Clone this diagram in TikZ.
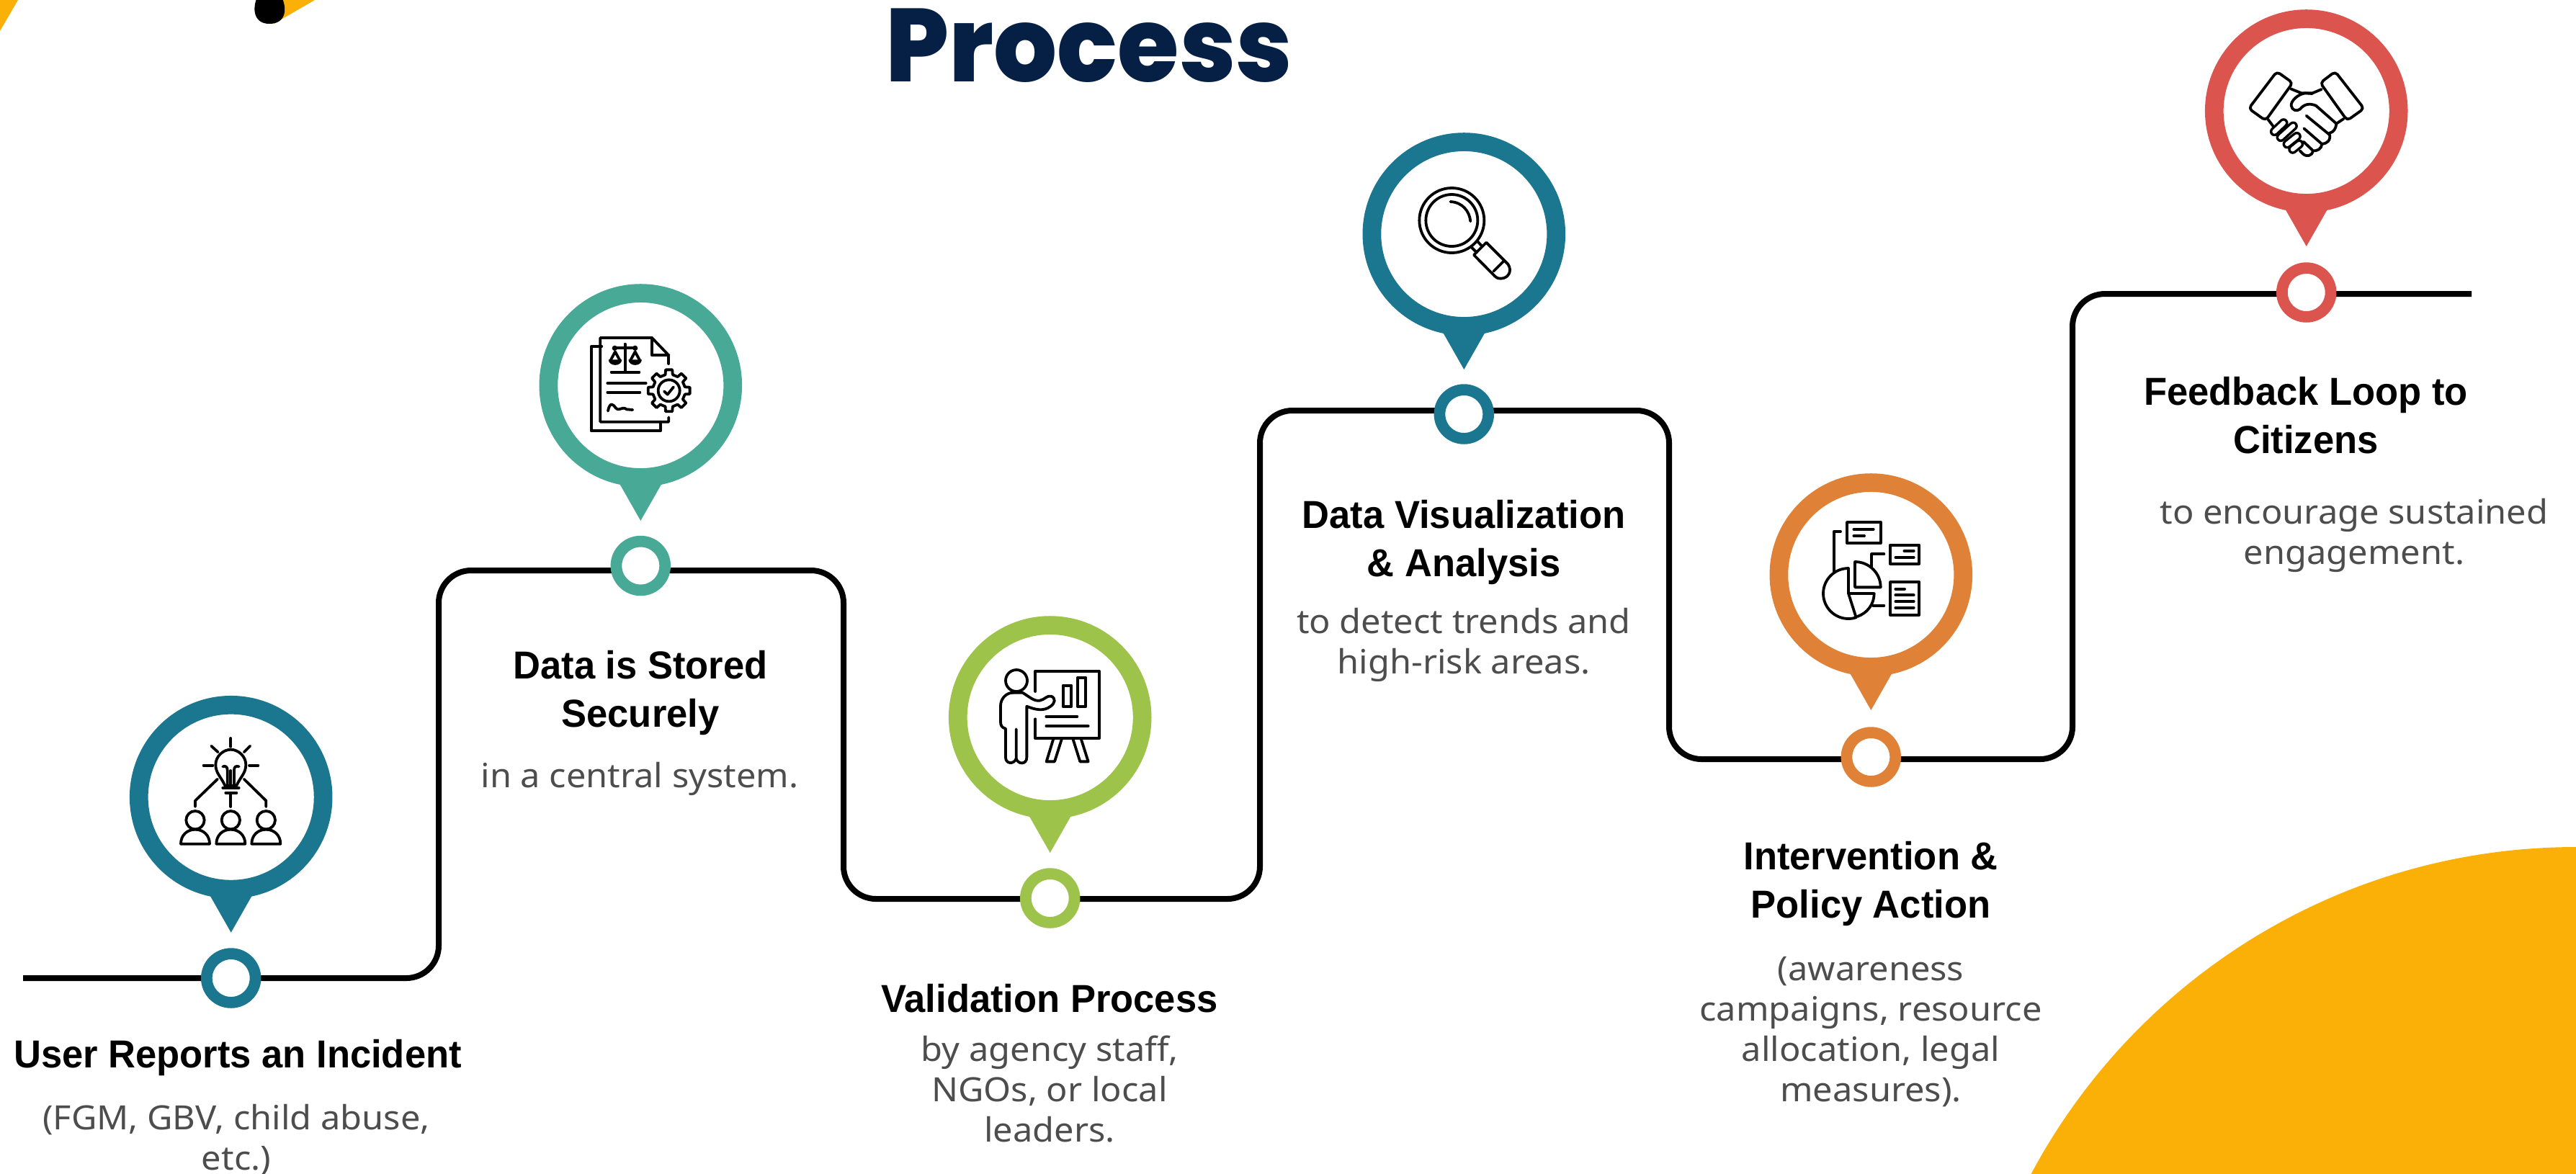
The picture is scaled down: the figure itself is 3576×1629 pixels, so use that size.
\documentclass[tikz,border=0pt]{standalone}
\usepackage{fontspec}
\setmainfont[FakeStretch=1.05]{Noto Sans}
\newfontfamily\headfont[FakeStretch=0.97]{Liberation Sans}
\newfontfamily\titlefont[FakeStretch=0.96]{Poppins ExtraBold}

\definecolor{petrol}{HTML}{1B768F}
\definecolor{seagreen}{HTML}{47A996}
\definecolor{lime}{HTML}{9DC34A}
\definecolor{carrot}{HTML}{DF8136}
\definecolor{brick}{HTML}{DB544E}
\definecolor{sun}{HTML}{FBB007}
\definecolor{navy}{HTML}{061F45}
\definecolor{notegray}{HTML}{4D4D4D}

\tikzset{
  trail/.style={line width=0.08cm, rounded corners=0.45cm},
  pin/.style={circle, fill=white, inner sep=0pt, minimum size=2.557cm, line width=0.257cm},
  ring/.style={circle, fill=white, inner sep=0pt, minimum size=0.677cm, line width=0.157cm},
  steptitle/.style={anchor=base, align=center, inner sep=0pt, font=\headfont\bfseries\fontsize{15.4pt}{18.8pt}\selectfont},
  stepnote/.style={anchor=base, align=center, inner sep=0pt, text=notegray, font=\fontsize{13.2pt}{15.9pt}\selectfont},
  icon/.style={line width=0.038cm, line cap=round, line join=round},
}

\begin{document}
\begin{tikzpicture}[x=0.01cm,y=-0.01cm]
  \useasboundingbox (0,0) rectangle (3576,1629);
  \begin{scope}
    \clip (0,0) rectangle (3576,1629);
    \fill[sun] (3576,2033) circle (857);
    \fill[sun] (0,0) -- (25,0) -- (0,43) -- cycle;
    \fill[sun] (380,0) -- (437,0) -- (380,33) -- cycle;
    \fill (357,-4) .. controls (350,12) and (352,33) .. (374,33) .. controls (397,33) and (399,12) .. (391,-4) -- cycle;
  \end{scope}

  \node (title) at (1512,113) [anchor=base, inner sep=0pt, text=navy, font=\titlefont\fontsize{41pt}{41pt}\selectfont] {Process};

  \coordinate (trailstart) at (32,1358);
  \coordinate (bend1) at (609,1358);
  \coordinate (bend2) at (609,792);
  \coordinate (bend3) at (1171,792);
  \coordinate (bend4) at (1171,1248);
  \coordinate (bend5) at (1749,1248);
  \coordinate (bend6) at (1749,570);
  \coordinate (bend7) at (2317,570);
  \coordinate (bend8) at (2317,1054);
  \coordinate (bend9) at (2877,1054);
  \coordinate (bend10) at (2877,408);
  \coordinate (trailend) at (3431,408);
  \draw[trail] (trailstart) -- (bend1) -- (bend2) -- (bend3) -- (bend4) -- (bend5) -- (bend6) -- (bend7) -- (bend8) -- (bend9) -- (bend10) -- (trailend);

  \foreach \n/\x/\y/\ry/\col in {1/320.7/1106.7/1358/petrol, 2/889.3/535/785.5/seagreen, 3/1457.7/996/1247/lime, 4/2032.3/325/575/petrol, 5/2597.3/798/1051/carrot, 6/3201.7/154/406/brick} {
    \node (pin\n) at (\x,\y) [pin, draw=\col] {};
    \fill[\col] ([shift={(-29,137)}]pin\n.center) -- ([shift={(29,137)}]pin\n.center) -- ([shift={(0,188)}]pin\n.center) -- cycle;
    \node (ring\n) at (\x,\ry) [ring, draw=\col] {};
  }

  \node (head1) at (330,1482) [steptitle] {User Reports an Incident};
  \node (note1) at (328,1624) [stepnote] {(FGM, GBV, child abuse,\\etc.)};
  \node (head2) at (889,1009) [steptitle] {Data is Stored\\Securely};
  \node (note2) at (888,1093) [stepnote] {in a central system.};
  \node (head3) at (1457,1405) [steptitle] {Validation Process};
  \node (note3) at (1457,1585) [stepnote] {by agency staff,\\NGOs, or local\\leaders.};
  \node (head4) at (2032,800) [steptitle] {Data Visualization\\\& Analysis};
  \node (note4) at (2032,935) [stepnote] {to detect trends and\\high-risk areas.};
  \node (head5) at (2597,1274) [steptitle] {Intervention \&\\Policy Action};
  \node (note5) at (2597,1529) [stepnote] {(awareness\\campaigns, resource\\allocation, legal\\measures).};
  \node (head6) at (3201,629) [steptitle] {Feedback Loop to\\Citizens};
  \node (note6) at (3268,783) [stepnote] {to encourage sustained\\engagement.};

  \begin{scope}[shift={(150,950)},scale=1/3,icon]
    \draw (511,225) -- (511,260);
    \draw (430,257) -- (458,283);
    \draw (592,257) -- (566,283);
    \draw (398,338) -- (436,338);
    \draw (588,338) -- (625,338);
    \draw (487,422) .. controls (470,385) and (448,370) .. (448,335) .. controls (448,300) and (480,272) .. (511,272) .. controls (542,272) and (574,300) .. (574,335) .. controls (574,370) and (552,385) .. (535,422) -- cycle;
    \draw (478,343) .. controls (490,338) and (497,345) .. (497,358) -- (497,420);
    \draw (545,343) .. controls (532,338) and (525,345) .. (525,358) -- (525,420);
    \draw (511,360) -- (511,420);
    \draw (478,432) -- (545,432);
    \draw (490,452) -- (535,452);
    \draw (511,452) -- (511,510);
    \draw (456,395) -- (363,485) -- (363,510);
    \draw (566,395) -- (658,485) -- (658,510);
    \foreach \x in {363,511,658} {
      \draw (\x,566) circle (38);
      \draw (\x-60,665) .. controls (\x-60,630) and (\x-35,605) .. (\x,605) .. controls (\x+35,605) and (\x+60,630) .. (\x+60,665) -- cycle;
    }
  \end{scope}

  \begin{scope}[shift={(730,380)},scale=1/3,icon]
    \draw (316,303) -- (272,303) -- (272,655) -- (560,655) -- (560,617);
    \draw (595,345) -- (595,375);
    \draw (595,598) -- (595,617) -- (310,617) -- (310,267) -- (525,267) -- (595,340);
    \draw (525,267) -- (525,340) -- (595,340);
    \draw (413,293) -- (413,405);
    \draw (356,410) -- (472,410);
    \draw (370,310) -- (455,310);
    \draw (372,325) -- (352,362) (372,325) -- (392,362);
    \draw (455,325) -- (435,362) (455,325) -- (475,362);
    \fill (344,358) -- (400,358) .. controls (398,388) and (346,388) .. (344,358) -- cycle;
    \fill (427,358) -- (483,358) .. controls (481,388) and (429,388) .. (427,358) -- cycle;
    \fill (370,310) circle (11);
    \fill (455,310) circle (11);
    \draw (340,456) -- (500,456);
    \draw (340,494) -- (475,494);
    \draw (342,572) .. controls (350,530) and (365,545) .. (375,560) .. controls (390,575) and (400,550) .. (420,565) -- (445,567);
    \begin{scope}[shift={(596,487)}]
      \foreach \a in {0,45,...,315} {
        \draw (\a-32:68) -- (\a-13:68) -- (\a-9:88) -- (\a+9:88) -- (\a+13:68);
      }
      \draw (0,0) circle (45);
      \draw (-20,3) -- (-6,16) -- (19,-15);
    \end{scope}
  \end{scope}

  \begin{scope}[shift={(1300,850)},scale=1/3,icon]
    \draw (333,285) circle (45);
    \draw (412,330) -- (412,245) -- (678,245) -- (678,525) -- (412,525) -- (412,445);
    \draw (527,305) rectangle (562,393);
    \draw (588,272) rectangle (622,393);
    \draw (457,434) -- (586,434);
    \draw (457,474) -- (632,474);
    \draw (487,527) -- (458,622) -- (492,622) -- (522,527);
    \draw (568,527) -- (598,622) -- (632,622) -- (602,527);
    \draw (320,335) -- (358,335) .. controls (385,350) and (405,372) .. (430,368) .. controls (450,365) and (460,345) .. (478,350) .. controls (497,358) and (495,378) .. (475,392) .. controls (445,415) and (410,405) .. (376,392) -- (376,605) .. controls (376,635) and (340,635) .. (332,610) -- (332,487);
    \draw (332,610) .. controls (322,635) and (288,632) .. (288,605) -- (288,485) .. controls (270,480) and (267,470) .. (267,455) -- (267,390) .. controls (267,360) and (290,335) .. (320,335);
  \end{scope}

  \begin{scope}[shift={(1880,180)},scale=1/3,icon]
    \draw (406,378) circle (135);
    \draw (406,378) circle (108);
    \draw (400,300) .. controls (450,302) and (480,340) .. (484,382);
    \draw (513,465) -- (533,487);
    \draw (490,492) -- (510,512);
    \draw (498,522) -- (550,470) -- (640,560) .. controls (660,590) and (640,620) .. (610,620) .. controls (595,620) and (590,615) .. (585,610) -- cycle;
    \draw (580,590) -- (622,548);
  \end{scope}

  \begin{scope}[shift={(2440,650)},scale=1/3,icon]
    \draw (372,225) rectangle (512,312);
    \draw (400,255) -- (482,255);
    \draw (400,282) -- (444,282);
    \draw (552,320) rectangle (672,398);
    \draw (610,345) -- (650,345);
    \draw (574,372) -- (650,372);
    \draw (552,474) rectangle (672,612);
    \draw (574,503) -- (612,503);
    \foreach \y in {529,555,581} \draw (574,\y) -- (650,\y);
    \draw (345,264) -- (317,264) -- (317,432);
    \draw (526,358) -- (475,358) -- (475,410);
    \draw (480,572) -- (526,572);
    \draw (378,417) .. controls (320,417) and (273,464) .. (273,522) .. controls (273,580) and (320,627) .. (378,627) .. controls (390,627) and (400,625) .. (410,622) -- (378,522) -- cycle;
    \draw (378,522) -- (485,522) .. controls (485,565) and (458,603) .. (415,618);
    \draw (405,390) .. controls (464,390) and (512,437) .. (512,496) -- (405,496) -- cycle;
  \end{scope}

  \begin{scope}[shift={(3040,0)},scale=1/3,icon]
    \draw[rounded corners=0.05cm] (362,298) -- (428,345) -- (315,502) -- (245,452) -- cycle;
    \draw[rounded corners=0.05cm] (605,298) -- (543,345) -- (655,502) -- (725,452) -- cycle;
    \draw (420,370) -- (465,388) -- (510,388) -- (548,372);
    \draw (510,390) -- (480,388) .. controls (450,392) and (420,420) .. (422,440) .. controls (425,460) and (445,465) .. (458,455) .. controls (475,435) and (495,428) .. (525,440) -- (610,515);
    \draw (640,495) -- (610,515) .. controls (608,535) and (600,550) .. (580,555) .. controls (590,585) and (570,598) .. (550,600) .. controls (548,620) and (530,630) .. (512,628) .. controls (510,650) and (485,655) .. (470,640) -- (458,628);
    \draw (485,482) -- (580,560);
    \draw (475,535) -- (550,600);
    \draw (473,590) -- (510,625);
    \draw (325,497) -- (350,530);
    \foreach \ax/\ay/\bx/\by in {352/548/390/512, 378/572/430/525, 405/600/445/568, 428/622/455/600} {
      \draw[line width=0.13cm] (\ax,\ay) -- (\bx,\by);
      \draw[line width=0.06cm, white] (\ax,\ay) -- (\bx,\by);
    }
  \end{scope}
\end{tikzpicture}
\end{document}
